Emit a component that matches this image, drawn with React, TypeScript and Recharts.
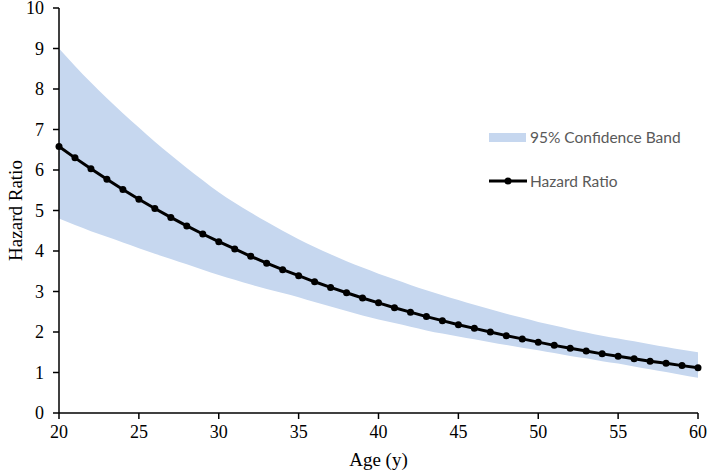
import React from "react";
import {
  ComposedChart,
  Area,
  Line,
  XAxis,
  YAxis,
  Label,
} from "recharts";

// ages 20..60, one point per year
const ages = [
  20, 21, 22, 23, 24, 25, 26, 27, 28, 29, 30, 31, 32, 33, 34, 35, 36, 37, 38, 39, 40,
  41, 42, 43, 44, 45, 46, 47, 48, 49, 50, 51, 52, 53, 54, 55, 56, 57, 58, 59, 60,
];

const hazardRatio = [
  6.58, 6.3, 6.03, 5.77, 5.52, 5.28, 5.05, 4.83, 4.62, 4.42, 4.23, 4.05, 3.87, 3.7, 3.54,
  3.39, 3.24, 3.1, 2.97, 2.84, 2.72, 2.6, 2.49, 2.38, 2.28, 2.18, 2.09, 2.0, 1.91, 1.83,
  1.75, 1.67, 1.6, 1.53, 1.46, 1.4, 1.34, 1.28, 1.23, 1.17, 1.12,
];

const upperBand = [
  9.0, 8.57, 8.16, 7.77, 7.4, 7.05, 6.7, 6.37, 6.05, 5.75, 5.45, 5.19, 4.95, 4.72, 4.5,
  4.29, 4.1, 3.92, 3.75, 3.59, 3.44, 3.3, 3.16, 3.03, 2.91, 2.79, 2.67, 2.56, 2.45, 2.35,
  2.25, 2.16, 2.07, 1.99, 1.91, 1.84, 1.77, 1.7, 1.63, 1.56, 1.5,
];

const lowerBand = [
  4.8, 4.64, 4.49, 4.35, 4.21, 4.07, 3.93, 3.8, 3.67, 3.54, 3.41, 3.29, 3.17, 3.06, 2.96,
  2.86, 2.74, 2.63, 2.52, 2.41, 2.31, 2.22, 2.13, 2.04, 1.96, 1.89, 1.82, 1.75, 1.68, 1.61,
  1.55, 1.48, 1.41, 1.35, 1.28, 1.22, 1.15, 1.08, 1.01, 0.94, 0.87,
];

const xTicks = [20, 25, 30, 35, 40, 45, 50, 55, 60];
const yTicks = [0, 1, 2, 3, 4, 5, 6, 7, 8, 9, 10];

const data = ages.map((age, i) => ({
  age,
  hr: hazardRatio[i],
  band: [lowerBand[i], upperBand[i]],
}));

const BAND = "#C6D7EF";
const serif = "Liberation Serif";
const legendFont = "Lato";

function XTick({ x, y, payload }: any) {
  return (
    <text x={x} y={y} dy={13} textAnchor="middle" fill="#000" fontSize={18} fontFamily={serif}>
      {payload.value}
    </text>
  );
}

function YTick({ x, y, payload }: any) {
  return (
    <text x={x} y={y} dy={6} textAnchor="end" fill="#000" fontSize={18} fontFamily={serif}>
      {payload.value}
    </text>
  );
}

function ChartLegend() {
  return (
    <div
      style={{
        position: "absolute",
        left: 489,
        top: 124,
        fontFamily: legendFont,
        fontSize: 15.5,
        color: "#595959",
      }}
    >
      <div style={{ display: "flex", alignItems: "center", height: 26 }}>
        <span style={{ display: "inline-block", width: 37, height: 9, background: BAND }} />
        <span style={{ marginLeft: 4 }}>95% Confidence Band</span>
      </div>
      <div style={{ display: "flex", alignItems: "center", height: 26, marginTop: 18 }}>
        <svg width={38} height={10}>
          <line x1={0} y1={5} x2={38} y2={5} stroke="#000" strokeWidth={3} />
          <circle cx={19} cy={5} r={3.5} fill="#000" />
        </svg>
        <span style={{ marginLeft: 3 }}>Hazard Ratio</span>
      </div>
    </div>
  );
}

export default function App() {
  return (
    <div
      style={{
        position: "absolute",
        left: 0,
        top: 0,
        width: 709,
        height: 470,
        background: "#fff",
        fontFamily: serif,
      }}
    >
      <ComposedChart
        width={709}
        height={470}
        data={data}
        margin={{ top: 8, right: 11, bottom: 12, left: 0 }}
      >
        <XAxis
          type="number"
          dataKey="age"
          domain={[20, 60]}
          ticks={xTicks}
          interval={0}
          height={45}
          tickSize={6}
          tickMargin={6}
          axisLine={{ stroke: "#000", strokeWidth: 1.5 }}
          tickLine={{ stroke: "#000", strokeWidth: 1.5 }}
          tick={<XTick />}
        >
          <Label
            value="Age (y)"
            position="insideBottom"
            offset={-8}
            style={{ fill: "#000", fontSize: 19, fontFamily: serif }}
          />
        </XAxis>
        <YAxis
          type="number"
          domain={[0, 10]}
          ticks={yTicks}
          interval={0}
          width={59}
          tickSize={6}
          tickMargin={9}
          axisLine={{ stroke: "#000", strokeWidth: 1.5 }}
          tickLine={{ stroke: "#000", strokeWidth: 1.5 }}
          tick={<YTick />}
        >
          <Label
            value="Hazard Ratio"
            angle={-90}
            position="insideLeft"
            offset={15}
            style={{ fill: "#000", fontSize: 19, fontFamily: serif, textAnchor: "middle" }}
          />
        </YAxis>
        <Area
          dataKey="band"
          type="monotone"
          stroke="none"
          fill={BAND}
          fillOpacity={1}
          isAnimationActive={false}
          activeDot={false}
        />
        <Line
          dataKey="hr"
          type="linear"
          stroke="#000"
          strokeWidth={3}
          dot={{ r: 3.5, fill: "#000", stroke: "#000", strokeWidth: 0 }}
          activeDot={false}
          isAnimationActive={false}
        />
      </ComposedChart>
      <ChartLegend />
    </div>
  );
}
